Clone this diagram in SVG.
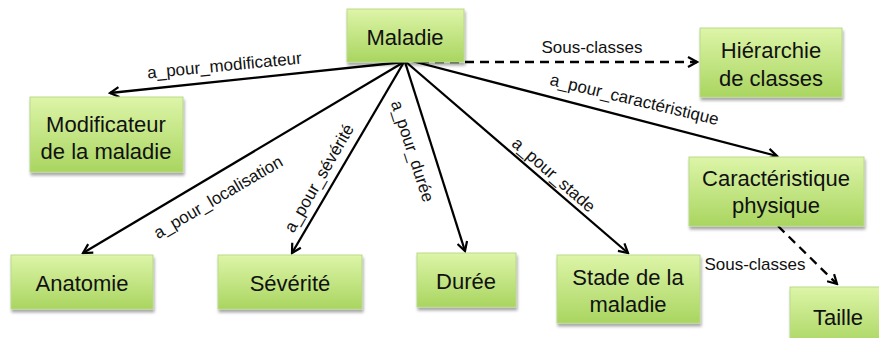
<svg xmlns="http://www.w3.org/2000/svg" width="879" height="338" viewBox="0 0 879 338">
  <defs>
    <linearGradient id="boxFill" x1="0" y1="0" x2="0" y2="1">
      <stop offset="0" stop-color="#ddf5a8"/>
      <stop offset="1" stop-color="#a9d560"/>
    </linearGradient>
    <filter id="shadow" x="-10%" y="-10%" width="130%" height="140%">
      <feGaussianBlur in="SourceAlpha" stdDeviation="1.5"/>
      <feOffset dx="1" dy="3" result="b"/>
      <feComponentTransfer><feFuncA type="linear" slope="0.35"/></feComponentTransfer>
      <feMerge><feMergeNode/><feMergeNode in="SourceGraphic"/></feMerge>
    </filter>
    <marker id="arrow" viewBox="0 0 12 12" refX="10" refY="6" markerWidth="12" markerHeight="12" markerUnits="userSpaceOnUse" orient="auto">
      <path d="M1,1 L10,6 L1,11" fill="none" stroke="#000" stroke-width="2.2"/>
    </marker>
  </defs>
  <style>
    .box { fill: url(#boxFill); stroke: #b9d98a; stroke-width: 1; filter: url(#shadow); }
    .node { font-family: "Liberation Sans", Arial, sans-serif; font-size: 22px; fill: #111; text-anchor: middle; }
    .edge { stroke: #000; stroke-width: 2.3; fill: none; marker-end: url(#arrow); }
    .dash { stroke-dasharray: 9 6; }
    .lbl { font-family: "Liberation Sans", Arial, sans-serif; font-size: 17px; fill: #111; text-anchor: middle; }
  </style>

  <rect width="879" height="338" fill="#fff"/>

  <!-- connectors -->
  <g id="connectors">
    <line class="edge" x1="404" y1="62" x2="110" y2="93"/>
    <line class="edge" x1="404" y1="62" x2="83" y2="253"/>
    <line class="edge" x1="404" y1="62" x2="292" y2="253"/>
    <line class="edge" x1="405" y1="62" x2="465" y2="251"/>
    <line class="edge" x1="406" y1="62" x2="628" y2="253"/>
    <line class="edge" x1="408" y1="60" x2="777" y2="156"/>
    <line class="edge dash" x1="420" y1="62" x2="697" y2="62"/>
    <line class="edge dash" x1="778" y1="226" x2="837" y2="284"/>

    <text class="lbl" transform="translate(225,71) rotate(-5.5)">a_pour_modificateur</text>
    <text class="lbl" x="592" y="53">Sous-classes</text>
    <text class="lbl" transform="translate(633,105) rotate(13.5)">a_pour_caractéristique</text>
    <text class="lbl" transform="translate(221,202) rotate(-30.5)">a_pour_localisation</text>
    <text class="lbl" transform="translate(324,181) rotate(-60)">a_pour_sévérité</text>
    <text class="lbl" transform="translate(407,153) rotate(72)">a_pour_durée</text>
    <text class="lbl" transform="translate(550,179) rotate(41)">a_pour_stade</text>
    <text class="lbl" x="755" y="270">Sous-classes</text>
  </g>

  <!-- nodes -->
  <g id="maladie">
    <rect class="box" x="347" y="9" width="117" height="53"/>
    <text class="node" x="405" y="45">Maladie</text>
  </g>
  <g id="modificateur">
    <rect class="box" x="30" y="97" width="153" height="75"/>
    <text class="node" x="106" y="132">Modificateur</text>
    <text class="node" x="106" y="159">de la maladie</text>
  </g>
  <g id="hierarchie">
    <rect class="box" x="700" y="28" width="142" height="69"/>
    <text class="node" x="771" y="58">Hiérarchie</text>
    <text class="node" x="771" y="86">de classes</text>
  </g>
  <g id="anatomie">
    <rect class="box" x="11" y="255" width="142" height="54"/>
    <text class="node" x="82" y="291">Anatomie</text>
  </g>
  <g id="severite">
    <rect class="box" x="218" y="255" width="144" height="54"/>
    <text class="node" x="290" y="291">Sévérité</text>
  </g>
  <g id="duree">
    <rect class="box" x="417" y="253" width="99" height="54"/>
    <text class="node" x="466" y="289">Durée</text>
  </g>
  <g id="stade">
    <rect class="box" x="557" y="255" width="143" height="68"/>
    <text class="node" x="628" y="285">Stade de la</text>
    <text class="node" x="628" y="312">maladie</text>
  </g>
  <g id="caracteristique">
    <rect class="box" x="689" y="157" width="175" height="69"/>
    <text class="node" x="776" y="186">Caractéristique</text>
    <text class="node" x="776" y="213">physique</text>
  </g>
  <g id="taille">
    <rect class="box" x="790" y="287" width="96" height="60"/>
    <text class="node" x="838" y="325">Taille</text>
  </g>
</svg>
